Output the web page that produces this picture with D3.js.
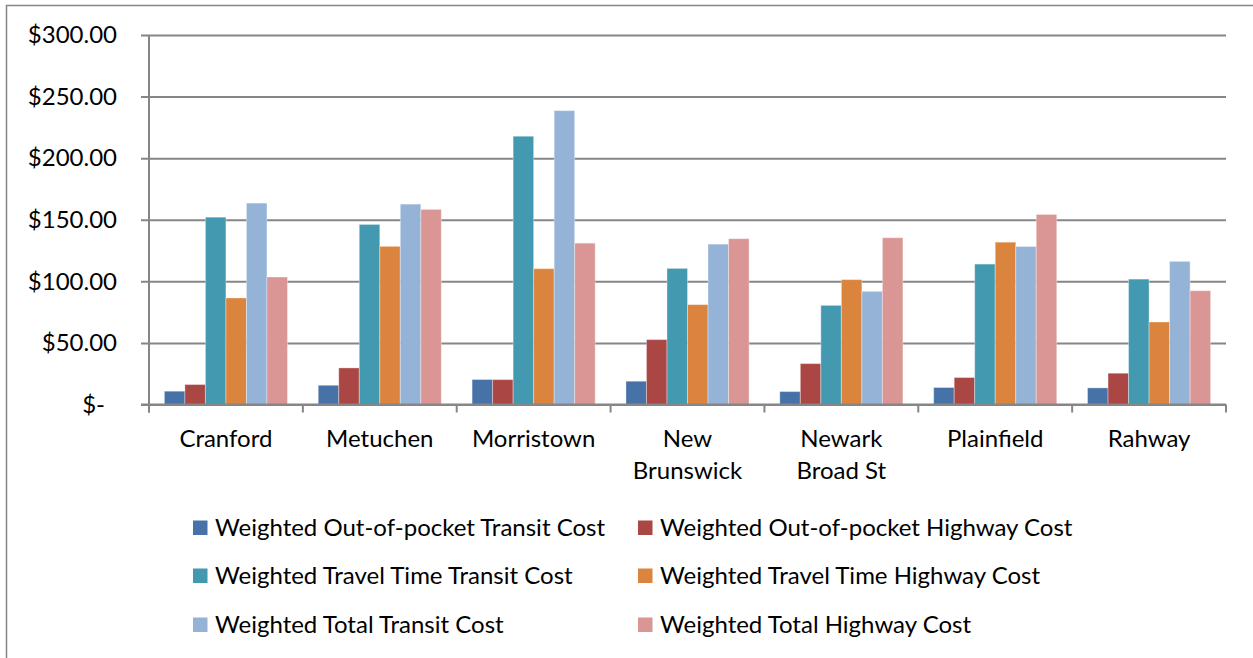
<!DOCTYPE html>
<html>
<head>
<meta charset="utf-8">
<script src="https://cdn.jsdelivr.net/npm/d3@7"></script>
<style>
  html, body { margin: 0; padding: 0; background: #fff; }
  svg { display: block; }
  text { font-family: Lato, "Open Sans", sans-serif; fill: #000; }
</style>
</head>
<body>
<svg id="chart" width="1253" height="658"></svg>
<script>
const categories = [["Cranford"], ["Metuchen"], ["Morristown"], ["New", "Brunswick"], ["Newark", "Broad St"], ["Plainfield"], ["Rahway"]];
const seriesNames = [
  "Weighted Out-of-pocket Transit Cost",
  "Weighted Out-of-pocket Highway Cost",
  "Weighted Travel Time Transit Cost",
  "Weighted Travel Time Highway Cost",
  "Weighted Total Transit Cost",
  "Weighted Total Highway Cost"
];
const seriesColors = ["#4672A8", "#AA4644", "#4399B0", "#DB843D", "#95B3D7", "#D99694"];
const outOfPocketTransit = [10.8, 15.6, 20.3, 18.9, 10.5, 13.8, 13.5];
const outOfPocketHighway = [16.2, 29.7, 20.2, 52.7, 33.2, 21.9, 25.4];
const travelTimeTransit = [152.1, 146.2, 217.8, 110.5, 80.5, 114.0, 101.8];
const travelTimeHighway = [86.5, 128.4, 110.3, 81.1, 101.4, 131.8, 67.0];
const totalTransit = [163.5, 162.7, 238.6, 130.2, 91.9, 128.3, 116.2];
const totalHighway = [103.5, 158.4, 131.0, 134.6, 135.4, 154.3, 92.4];
const yTicks = [0, 50, 100, 150, 200, 250, 300];

const seriesValues = [outOfPocketTransit, outOfPocketHighway, travelTimeTransit, travelTimeHighway, totalTransit, totalHighway];

const svg = d3.select("#chart");
const gray = "#868686";
const fontSize = 24;

// outer frame
svg.append("rect").attr("x", 6.5).attr("y", 5.5).attr("width", 1260).attr("height", 670)
  .attr("fill", "none").attr("stroke", gray).attr("stroke-width", 1.5);

const plot = { left: 149, right: 1226, top: 35, bottom: 404.5 };
const catKeys = categories.map(c => c.join(" "));
const x0 = d3.scaleBand().domain(catKeys).range([plot.left, plot.right]).padding(0);
const x1 = d3.scaleBand().domain(d3.range(seriesNames.length)).range([0, x0.bandwidth()]).paddingInner(0).paddingOuter(0.75);
const y = d3.scaleLinear().domain([0, 300]).range([plot.bottom, plot.top]);

// gridlines + y labels
const yAxis = d3.axisLeft(y).tickValues(yTicks)
  .tickSize(-(plot.right - plot.left) - 8)
  .tickPadding(24)
  .tickFormat(d => d === 0 ? "$-" : "$" + d3.format(".2f")(d));
const gy = svg.append("g").attr("transform", `translate(${plot.left - 8},0)`).call(yAxis);
gy.select(".domain").remove();
gy.selectAll(".tick line").attr("stroke", gray).attr("stroke-width", 2);
gy.selectAll(".tick text").attr("font-size", fontSize).attr("fill", "#000")
  .attr("font-family", "Lato, 'Open Sans', sans-serif")
  .attr("dx", d => d === 0 ? -12 : 0);

// y axis line
svg.append("line").attr("x1", plot.left).attr("x2", plot.left)
  .attr("y1", plot.top).attr("y2", plot.bottom + 8)
  .attr("stroke", gray).attr("stroke-width", 2);

// bars
const groups = svg.append("g").selectAll("g").data(catKeys).join("g")
  .attr("transform", d => `translate(${x0(d)},0)`);
groups.selectAll("rect").data((d, i) => seriesValues.map((s, k) => ({ k, v: s[i] }))).join("rect")
  .attr("x", d => x1(d.k))
  .attr("width", x1.bandwidth())
  .attr("y", d => y(d.v))
  .attr("height", d => y(0) - y(d.v))
  .attr("fill", d => seriesColors[d.k])
  .attr("stroke", "rgba(255,255,255,0.35)")
  .attr("stroke-width", 1);

// x axis
const xAxis = d3.axisBottom(x0).tickSize(0).tickFormat("");
const gx = svg.append("g").attr("transform", `translate(0,${plot.bottom})`).call(xAxis);
gx.select(".domain").remove();
svg.append("line").attr("x1", plot.left - 8).attr("x2", plot.right)
  .attr("y1", plot.bottom).attr("y2", plot.bottom)
  .attr("stroke", gray).attr("stroke-width", 2);
const boundaries = catKeys.map(k => x0(k)).concat([plot.right]);
svg.append("g").selectAll("line").data(boundaries).join("line")
  .attr("x1", d => d).attr("x2", d => d)
  .attr("y1", plot.bottom).attr("y2", plot.bottom + 8)
  .attr("stroke", gray).attr("stroke-width", 2);

// category labels
const labels = svg.append("g").selectAll("text").data(categories).join("text")
  .attr("text-anchor", "middle").attr("font-size", fontSize)
  .attr("x", (d, i) => x0(catKeys[i]) + x0.bandwidth() / 2)
  .attr("y", 447);
labels.selectAll("tspan").data(d => d).join("tspan")
  .attr("x", function () { return d3.select(this.parentNode).attr("x"); })
  .attr("dy", (d, i) => i === 0 ? 0 : 32)
  .text(d => d);

// legend
const legendCols = [193, 638];
const legendRows = [528, 576, 625];
const legend = svg.append("g").selectAll("g").data(seriesNames).join("g")
  .attr("transform", (d, i) => `translate(${legendCols[i % 2]},${legendRows[Math.floor(i / 2)]})`);
legend.append("rect").attr("x", 0).attr("y", -7.5).attr("width", 14.5).attr("height", 14.5)
  .attr("fill", (d, i) => seriesColors[i]);
legend.append("text").attr("x", 22).attr("y", 0).attr("dy", "0.35em")
  .attr("font-size", fontSize).text(d => d);
</script>
</body>
</html>
